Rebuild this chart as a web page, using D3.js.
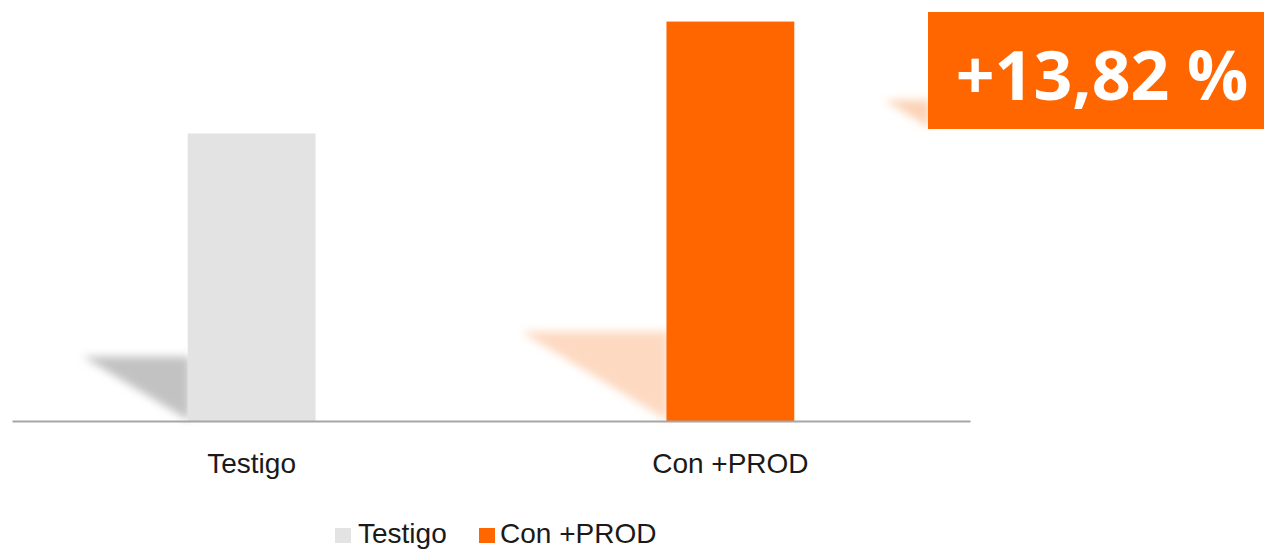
<!DOCTYPE html>
<html>
<head>
<meta charset="utf-8">
<script src="https://cdn.jsdelivr.net/npm/d3@7"></script>
<style>
  body { margin: 0; background: #fff; }
  svg { display: block; }
</style>
</head>
<body>
<div id="chart"></div>
<script>
// chart data
var categories = ["Testigo", "Con +PROD"];
var values = [100, 113.82];
var barColors = ["#e3e3e3", "#ff6600"];
var shadowColors = ["#c2c2c2", "#fdd9c1"];

var svgWidth = 1264;
var svgHeight = 550;

var baseY = 421;

var svg = d3.select("#chart").append("svg")
  .attr("width", svgWidth)
  .attr("height", svgHeight);

var defs = svg.append("defs");
defs.append("filter")
  .attr("id", "blur")
  .attr("x", "-50%").attr("y", "-50%")
  .attr("width", "200%").attr("height", "200%")
  .append("feGaussianBlur")
  .attr("stdDeviation", 4);

// scales
var xScale = d3.scaleBand()
  .domain(categories)
  .range([12, 970])
  .paddingInner(0.733)
  .paddingOuter(0.367);

var yScale = d3.scaleLinear()
  .domain([64.5, 115])
  .range([baseY, 12]);

var data = categories.map(function(c, i) {
  return { cat: c, value: values[i], color: barColors[i], shadow: shadowColors[i] };
});

// perspective shadows behind bars
svg.append("g").selectAll("path")
  .data(data)
  .enter()
  .append("path")
  .attr("fill", d => d.shadow)
  .attr("filter", "url(#blur)")
  .attr("d", function(d) {
    var left = xScale(d.cat);
    var h = baseY - yScale(d.value);
    var top = baseY - 0.224 * h;
    var tip = left - 0.365 * h;
    return "M" + tip + "," + top + "L" + (left + 2) + "," + top + "L" + (left + 2) + "," + baseY + "Z";
  });

// bars
svg.append("g").selectAll("rect")
  .data(data)
  .enter()
  .append("rect")
  .attr("x", d => xScale(d.cat))
  .attr("y", d => yScale(d.value))
  .attr("width", xScale.bandwidth())
  .attr("height", d => baseY - yScale(d.value))
  .attr("fill", d => d.color);

// x axis
var xAxis = svg.append("g")
  .attr("transform", `translate(0, ${baseY})`)
  .call(d3.axisBottom(xScale).tickSize(0).tickSizeOuter(0));

xAxis.select(".domain")
  .attr("stroke", "#a6a6a6")
  .attr("stroke-width", 2);

xAxis.selectAll("text")
  .attr("y", 52)
  .attr("dy", 0)
  .attr("fill", "#1a1a1a")
  .style("font-family", "'Liberation Sans', Arial, sans-serif")
  .style("font-size", "28px");

// legend
var legendX = [335, 479];
var legend = svg.append("g").selectAll("g")
  .data(data)
  .enter()
  .append("g")
  .attr("transform", (d, i) => `translate(${legendX[i]}, 528)`);

legend.append("rect")
  .attr("width", 16)
  .attr("height", 15)
  .attr("fill", d => d.color);

legend.append("text")
  .attr("x", (d, i) => i === 0 ? 23 : 21)
  .attr("y", 15)
  .attr("fill", "#1a1a1a")
  .style("font-family", "'Liberation Sans', Arial, sans-serif")
  .style("font-size", "28px")
  .text(d => d.cat);

// percentage badge
var pct = ((values[1] / values[0] - 1) * 100).toFixed(2).replace(".", ",");

svg.append("path")
  .attr("d", "M884,100L930,100L930,128Z")
  .attr("fill", "#fcd3b6")
  .attr("filter", "url(#blur)");

svg.append("rect")
  .attr("x", 928)
  .attr("y", 12)
  .attr("width", svgWidth - 928)
  .attr("height", 117)
  .attr("fill", "#ff6600");

svg.append("text")
  .attr("x", 1102)
  .attr("y", 100)
  .attr("text-anchor", "middle")
  .attr("fill", "#ffffff")
  .style("font-family", "'Open Sans', sans-serif")
  .style("font-weight", "bold")
  .style("font-size", "68px")
  .text("+" + pct + " %");
</script>
</body>
</html>
